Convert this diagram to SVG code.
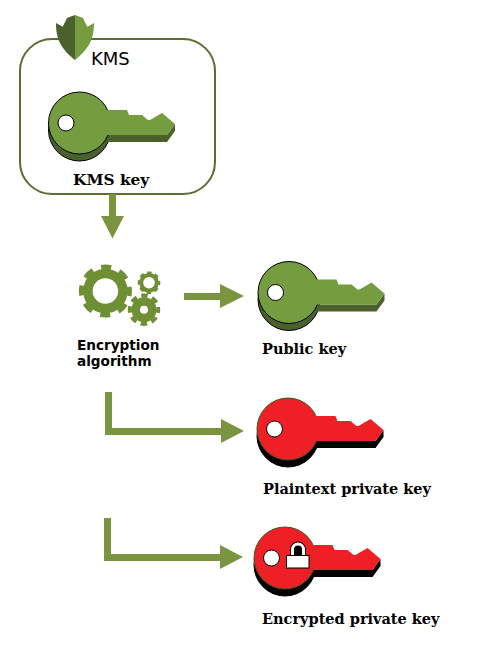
<svg xmlns="http://www.w3.org/2000/svg" width="496" height="661" viewBox="0 0 496 661">
<style>
.serif{font-family:"DejaVu Serif","Liberation Serif",serif;font-weight:bold;font-size:14.500px;fill:#000}
.sans{font-family:"DejaVu Sans","Liberation Sans",sans-serif;font-weight:bold;font-size:13.600px;fill:#000}
.conn{fill:#7b943f;stroke:none}
.green{--f:#759c3e;--s:#4b612c;--o:#000}
.red{--f:#ee2026;--s:#000;--o:#3c5a1e}
.face{fill:var(--f);stroke:none}
.side{fill:var(--s);stroke:none}
.rim{fill:var(--f);stroke:var(--o);stroke-width:1}
.rimside{fill:var(--s);stroke:#000;stroke-width:1}
.gear{fill:none;stroke:#6f8f35}
</style>
<defs>
<g id="keyshape">
<circle class="rimside" cx="0" cy="7" r="31"/>
<path class="side" d="M26 12H87.500L95.500 1V8L87.500 19H26Z"/>
<circle class="rim" cx="0" cy="0" r="31"/>
<path class="face" d="M26 -13H47.500L49.500 -8H62.500L68.500 -3H70.500L82.500 -10L95.500 1L87.500 12H26Z"/>
<circle cx="-13.500" cy="0" r="8" fill="#fff" stroke="#000" stroke-width="1"/>
</g>
</defs>
<g id="kms">
<rect x="20" y="39" width="195" height="155" rx="32" ry="32" fill="#fff" stroke="#5a6e32" stroke-width="2"/>
<path d="M75 15L67 18L62.700 26.700L56 23C56 38 60 48 75 60Z" fill="#4b612c"/>
<path d="M75 15L83 18L87.300 26.700L94 23C94 38 90 48 75 60Z" fill="#759c3e"/>
<text x="91" y="65" style="font-family:'DejaVu Sans','Liberation Sans',sans-serif;font-size:18px;fill:#000">KMS</text>
</g>
<g id="kms-key" class="green">
<use href="#keyshape" transform="translate(79.500 123)"/>
<text class="serif" x="73" y="185" style="font-size:15.400px">KMS key</text>
</g>
<g id="encryption-algorithm">
<circle class="gear" cx="105.400" cy="291" r="17.500" stroke-width="9.500"/>
<circle class="gear" cx="105.400" cy="291" r="23.500" stroke-width="6" stroke-dasharray="10 8.460" stroke-dashoffset="5"/>
<circle class="gear" cx="149" cy="282.700" r="7.800" stroke-width="4"/>
<circle class="gear" cx="149" cy="282.700" r="9.800" stroke-width="3" stroke-dasharray="4.400 3.300" stroke-dashoffset="2.200"/>
<circle class="gear" cx="144" cy="309.700" r="8.250" stroke-width="8.500"/>
<circle class="gear" cx="144" cy="309.700" r="14.200" stroke-width="4" stroke-dasharray="6.500 4.650" stroke-dashoffset="3.250"/>
<text class="sans" x="77" y="350">Encryption</text>
<text class="sans" x="77" y="366">algorithm</text>
</g>
<g id="public-key" class="green">
<use href="#keyshape" transform="translate(289 292.500)"/>
<text class="serif" x="262" y="354">Public key</text>
</g>
<g id="plaintext-private-key" class="red">
<use href="#keyshape" transform="translate(288 429)"/>
<text class="serif" x="263" y="494">Plaintext private key</text>
</g>
<g id="encrypted-private-key" class="red">
<use href="#keyshape" transform="translate(285 558)"/>
<path d="M292.500 556V549.500A5.500 5.500 0 0 1 303.500 549.500V556" fill="#000" stroke="#000" stroke-width="5"/>
<path d="M292.500 556V549.500A5.500 5.500 0 0 1 303.500 549.500V556" fill="#000" stroke="#fff" stroke-width="3"/>
<rect x="286.500" y="555.500" width="22.500" height="12.500" fill="#fff" stroke="#000" stroke-width="1"/>
<text class="serif" x="262" y="624">Encrypted private key</text>
</g>
<g id="connectors">
<path class="conn" d="M109 194H116V216H124L112.500 238.500L101 216H109Z"/>
<path class="conn" d="M184 293H220V284L244 296L220 308V300H184Z"/>
<path class="conn" d="M105 392H112V428H221V419L244 431L221 443V435H105Z"/>
<path class="conn" d="M104 518H111V554H220V545L243 557L220 569V561H104Z"/>
</g>
</svg>
